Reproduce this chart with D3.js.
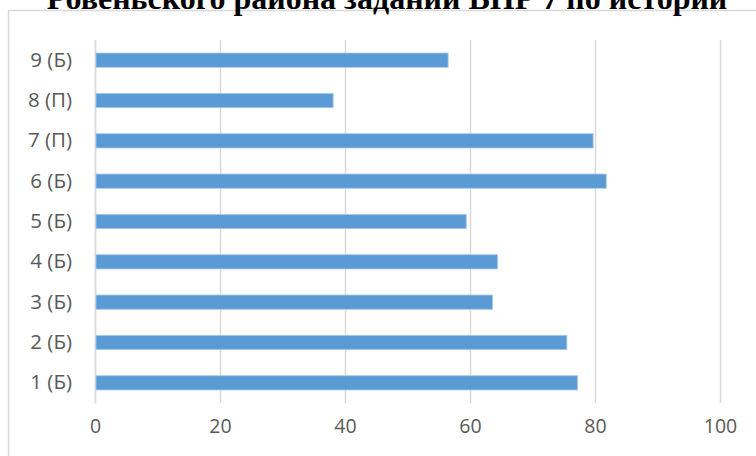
<!DOCTYPE html>
<html><head><meta charset="utf-8">
<script src="https://cdn.jsdelivr.net/npm/d3@7"></script>
<style>html,body{margin:0;padding:0;background:#fff;overflow:hidden}</style>
</head><body>
<svg id="c" width="756" height="456"></svg>
<script>
const titleText = "Ровеньского района заданий ВПР 7 по истории";
const categories = ["1 (Б)","2 (Б)","3 (Б)","4 (Б)","5 (Б)","6 (Б)","7 (П)","8 (П)","9 (Б)"];
const values = [77.2, 75.5, 63.6, 64.4, 59.4, 81.8, 79.7, 38.1, 56.5];
const xTicks = [0, 20, 40, 60, 80, 100];

const svg = d3.select("#c");
svg.append("rect").attr("x",8.5).attr("y",10.5).attr("width",760).attr("height",460)
  .attr("fill","#fff").attr("stroke","#D9D9D9").attr("stroke-width",1.5);

svg.append("text").attr("x",387).attr("y",8.5).attr("text-anchor","middle")
  .attr("font-family","'Liberation Serif','Times New Roman',serif").attr("font-weight","bold")
  .attr("font-size",32).attr("fill","#000").text(titleText);

const x = d3.scaleLinear().domain([0,100]).range([95,720]);
const y = d3.scaleBand().domain(categories.slice().reverse()).range([40,403]).paddingInner(0.646).paddingOuter(0.323);

const gx = svg.append("g").attr("transform","translate(0,403)")
  .call(d3.axisBottom(x).tickValues(xTicks).tickSize(-363).tickPadding(16));
gx.select(".domain").remove();
gx.selectAll("line").attr("stroke","#D9D9D9").attr("stroke-width",1.5);
gx.selectAll("text").attr("font-family","'Open Sans', 'Noto Sans', sans-serif").attr("font-size",19.5).attr("fill","#595959");

const gy = svg.append("g").attr("transform","translate(95,0)")
  .call(d3.axisLeft(y).tickSize(0).tickPadding(23));
gy.select(".domain").attr("stroke","#D9D9D9").attr("stroke-width",1.5);
gy.selectAll("text").attr("font-family","'Open Sans', 'Noto Sans', sans-serif").attr("font-size",20.5).attr("fill","#595959");

svg.append("g").selectAll("rect").data(categories).join("rect")
  .attr("x", x(0)+1)
  .attr("y", d=>y(d))
  .attr("width", (d,i)=>x(values[i])-x(0)-1)
  .attr("height", y.bandwidth())
  .attr("fill","#5B9BD5").attr("stroke","#A9C8EA").attr("stroke-width",0.8);
</script>
</body></html>
